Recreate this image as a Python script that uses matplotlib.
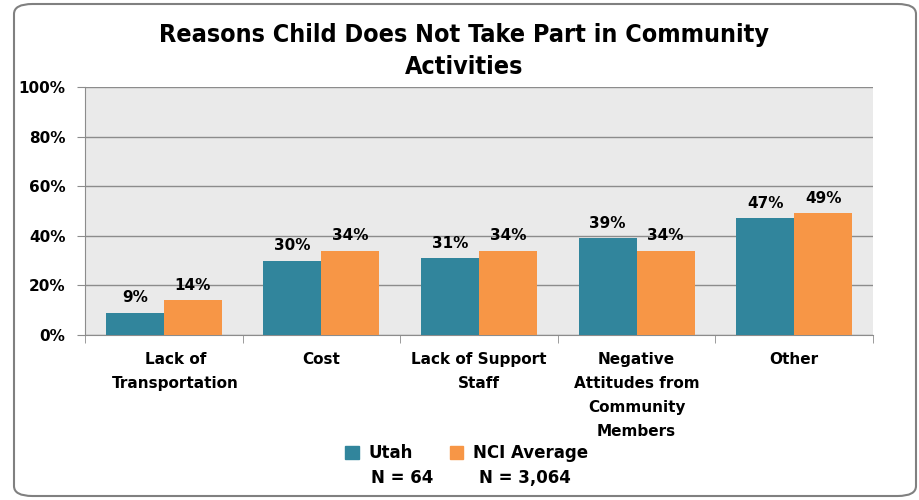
import matplotlib
matplotlib.use('Agg')
import matplotlib.pyplot as plt
from matplotlib.patches import FancyBboxPatch, Patch
from matplotlib.transforms import ScaledTranslation
import numpy as np

categories = ['Lack of\nTransportation', 'Cost', 'Lack of Support\nStaff',
              'Negative\nAttitudes from\nCommunity\nMembers', 'Other']
utah = [9, 30, 31, 39, 47]
nci = [14, 34, 34, 34, 49]
series_names = ['Utah', 'NCI Average']
series_n = ['N = 64', 'N = 3,064']
yticks = [0, 20, 40, 60, 80, 100]

teal = '#31859C'
orange = '#F79646'

plt.rcParams['font.family'] = ['DejaVu Sans']
fig = plt.figure(figsize=(9.19, 5), dpi=100)
ax = fig.add_axes([85/919, 1 - 335/500, 788/919, 248/500])

x = np.arange(len(categories))
w = 0.368
b1 = ax.bar(x - w/2, utah, w, color=teal, zorder=3)
b2 = ax.bar(x + w/2, nci, w, color=orange, zorder=3)
for bars, vals in ((b1, utah), (b2, nci)):
    for rect, v in zip(bars, vals):
        ax.text(rect.get_x() + rect.get_width()/2, v + 3, f'{v}%',
                ha='center', va='bottom', fontsize=11, fontweight='bold')

ax.set_facecolor('#EAEAEA')
ax.set_xlim(-0.5, len(categories) - 0.5)
ax.set_ylim(0, 100)
ax.set_yticks(yticks)
ax.set_yticklabels([f'{t}%' for t in yticks], fontsize=11, fontweight='bold')
ax.yaxis.grid(True, color='#8C8C8C', linewidth=1, zorder=0)
ax.set_axisbelow(True)
ax.tick_params(axis='y', length=6, color='#8C8C8C', pad=8)

ax.set_xticks(x)
ax.set_xticklabels(categories, fontsize=11, fontweight='bold', va='top',
                   linespacing=1.75)
ax.set_xticks(np.arange(-0.5, len(categories)), minor=True)
ax.tick_params(axis='x', which='major', length=0, pad=12)
ax.tick_params(axis='x', which='minor', length=6, color='#8C8C8C')
# first label sits a little right of its group in the original
lab0 = ax.get_xticklabels()[0]
lab0.set_transform(lab0.get_transform() + ScaledTranslation(0.12, 0, fig.dpi_scale_trans))

for s in ['top', 'right']:
    ax.spines[s].set_visible(False)
for s in ['left', 'bottom']:
    ax.spines[s].set_color('#8C8C8C')

fig.text(0.505, 0.898, 'Reasons Child Does Not Take Part in Community\nActivities',
         ha='center', va='center', fontsize=18, fontweight='bold',
         fontstretch='condensed', linespacing=1.4)

handles = [Patch(color=teal), Patch(color=orange)]
fig.legend(handles, series_names, loc='center', bbox_to_anchor=(0.508, 0.094),
           ncol=2, frameon=False, prop={'size': 12, 'weight': 'bold'},
           handlelength=0.8, handleheight=0.8, columnspacing=2.2, handletextpad=0.6)
fig.text(0.438, 0.044, series_n[0], ha='center', va='center', fontsize=12, fontweight='bold')
fig.text(0.571, 0.044, series_n[1], ha='center', va='center', fontsize=12, fontweight='bold')

frame = FancyBboxPatch((14/919, 4/500), 902/919, 492/500,
                       boxstyle='round,pad=0,rounding_size=0.02',
                       transform=fig.transFigure, facecolor='none',
                       edgecolor='#808080', linewidth=1.5)
fig.patches.append(frame)

fig.savefig('out.png', dpi=100)
